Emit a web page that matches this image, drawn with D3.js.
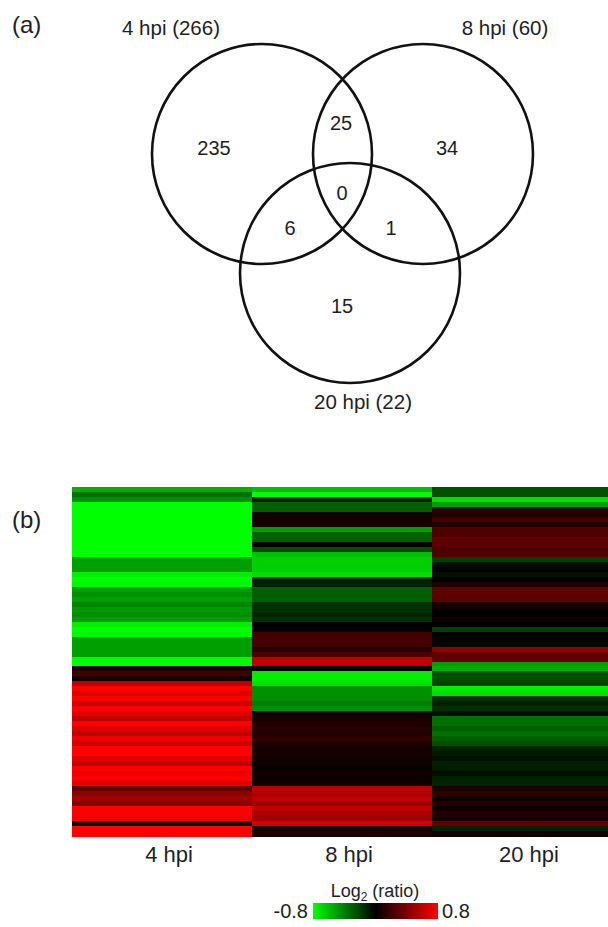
<!DOCTYPE html>
<html><head><meta charset="utf-8">
<script src="https://cdn.jsdelivr.net/npm/d3@7"></script>
<style>body{margin:0;background:#fff}svg{display:block}text{font-family:"Liberation Sans",Arial,sans-serif;fill:#1e1e1e}</style>
</head><body>
<script>
// ---- Data ----
const vennSets = ["4 hpi (266)", "8 hpi (60)", "20 hpi (22)"];
const vennRegions = ["235", "34", "15", "25", "6", "1", "0"]; // A, B, C, AB, AC, BC, ABC
const timepoints = ["4 hpi", "8 hpi", "20 hpi"];
const legendTicks = ["-0.8", "0.8"];
const colorDomain = [-0.8, 0, 0.8];
const hpi4 = [-0.55,-0.35,-0.45,-0.8,-0.8,-0.8,-0.8,-0.8,-0.8,-0.8,-0.8,-0.8,-0.8,-0.8,-0.5,-0.5,-0.5,-0.75,-0.8,-0.78,
  -0.5,-0.45,-0.5,-0.42,-0.48,-0.45,-0.5,-0.75,-0.8,-0.78,-0.5,-0.5,-0.5,-0.5,-0.8,-0.8,0.1,0.2,0.05,0.6,
  0.8,0.7,0.8,0.65,0.8,0.7,0.6,0.8,0.7,0.6,0.75,0.65,0.8,0.8,0.7,0.6,0.8,0.75,0.8,0.7,
  0.3,0.45,0.5,0.4,0.8,0.8,0.75,0.05,0.8,0.8];
const hpi8 = [-0.6,-0.8,-0.1,-0.3,-0.3,0.05,0.05,0.08,-0.5,-0.3,-0.3,0,-0.25,-0.6,-0.65,-0.65,-0.65,-0.7,-0.1,-0.1,
  -0.3,-0.3,-0.3,-0.15,-0.15,-0.12,-0.15,0,0,0.2,0.22,0.2,0.12,0.25,0.6,0.6,0,-0.75,-0.75,-0.7,
  -0.45,-0.45,-0.45,-0.4,-0.45,0.05,0.08,0.1,0.12,0.1,0.15,0.1,0.05,0.08,0.05,0.05,0.02,0.05,0.03,0.05,
  0.6,0.55,0.6,0.5,0.6,0.55,0.5,0.65,0.05,0.1];
const hpi20 = [-0.25,-0.25,-0.7,-0.5,0.15,0.1,0.2,0.1,0.25,0.25,0.3,0.28,0.25,0.25,-0.2,-0.05,0,-0.05,0,0.1,
  0.3,0.3,0.28,0.05,0.02,0,0.05,0,-0.2,0,0.02,-0.03,0.45,0.3,0.3,-0.5,-0.55,-0.25,-0.25,-0.2,
  -0.75,-0.7,-0.15,-0.1,-0.15,-0.05,-0.35,-0.35,-0.3,-0.35,-0.3,-0.25,-0.1,-0.08,-0.05,-0.1,-0.08,-0.05,-0.1,-0.12,
  0.1,0.15,0.05,0.1,0.05,0.1,0.08,0.3,-0.1,0.05];

// ---- Layout ----
const W = 608, H = 927;
const svg = d3.select("body").append("svg").attr("width", W).attr("height", H);

// Panel (a): Venn
svg.append("text").attr("x", 12).attr("y", 33).attr("font-size", 24).text("(a)");
const circ = [{cx:262, cy:154}, {cx:423, cy:154}, {cx:350, cy:273}];
const R = 110;
svg.append("g").selectAll("circle").data(vennSets).join("circle")
  .attr("cx", (d,i) => circ[i].cx).attr("cy", (d,i) => circ[i].cy).attr("r", R)
  .attr("fill", "none").attr("stroke", "#111").attr("stroke-width", 2.6);
const setLabelPos = [{x:171, y:35}, {x:505, y:35}, {x:363, y:409}];
svg.append("g").selectAll("text").data(vennSets).join("text")
  .attr("x", (d,i) => setLabelPos[i].x).attr("y", (d,i) => setLabelPos[i].y)
  .attr("text-anchor", "middle").attr("font-size", 20.5).text(d => d);
const regionPos = [{x:214,y:155},{x:447,y:155},{x:342,y:313},{x:341,y:130},{x:290,y:235},{x:391,y:235},{x:342,y:200}];
svg.append("g").selectAll("text").data(vennRegions).join("text")
  .attr("x", (d,i) => regionPos[i].x).attr("y", (d,i) => regionPos[i].y)
  .attr("text-anchor", "middle").attr("font-size", 20).text(d => d);

// Panel (b): heatmap
svg.append("text").attr("x", 12).attr("y", 528).attr("font-size", 24).text("(b)");
const series = [hpi4, hpi8, hpi20];
const nRows = hpi4.length;
const x = d3.scaleBand().domain(timepoints).range([72, 612]).padding(0);
const y = d3.scaleBand().domain(d3.range(nRows)).range([487, 836]).padding(0);
const color = d3.scaleLinear().domain(colorDomain).range(["#00ff00", "#000000", "#ff0000"]).clamp(true);
const cells = [];
timepoints.forEach((t, ci) => series[ci].forEach((v, ri) => cells.push({t, ri, v})));
svg.append("g").attr("shape-rendering", "crispEdges").selectAll("rect").data(cells).join("rect")
  .attr("x", d => x(d.t)).attr("y", d => y(d.ri))
  .attr("width", x.bandwidth()).attr("height", y.bandwidth() + 0.5)
  .attr("fill", d => color(d.v));

const xAxis = svg.append("g").attr("transform", "translate(7,836)")
  .call(d3.axisBottom(x).tickSize(0).tickPadding(10));
xAxis.select(".domain").remove();
xAxis.selectAll("text").attr("font-size", 22).attr("fill", "#1e1e1e").attr("font-family", "Liberation Sans, Arial, sans-serif");

// Legend
const defs = svg.append("defs");
const grad = defs.append("linearGradient").attr("id", "lg");
grad.selectAll("stop").data(colorDomain).join("stop")
  .attr("offset", (d,i) => (i / (colorDomain.length - 1) * 100) + "%")
  .attr("stop-color", d => color(d));
const lx = d3.scaleLinear().domain([-0.8, 0.8]).range([313, 438]);
svg.append("rect").attr("x", lx(-0.8)).attr("y", 903).attr("width", lx(0.8) - lx(-0.8)).attr("height", 16)
  .attr("fill", "url(#lg)");
const lt = svg.append("text").attr("x", 375).attr("y", 897).attr("text-anchor", "middle").attr("font-size", 18);
lt.append("tspan").text("Log");
lt.append("tspan").attr("font-size", 12).attr("dy", 4).text("2");
lt.append("tspan").attr("dy", -4).text(" (ratio)");
svg.append("g").selectAll("text").data(legendTicks).join("text")
  .attr("x", (d,i) => i === 0 ? lx(-0.8) - 5 : lx(0.8) + 4).attr("y", 918)
  .attr("text-anchor", (d,i) => i === 0 ? "end" : "start").attr("font-size", 20).text(d => d);
</script>
</body></html>
